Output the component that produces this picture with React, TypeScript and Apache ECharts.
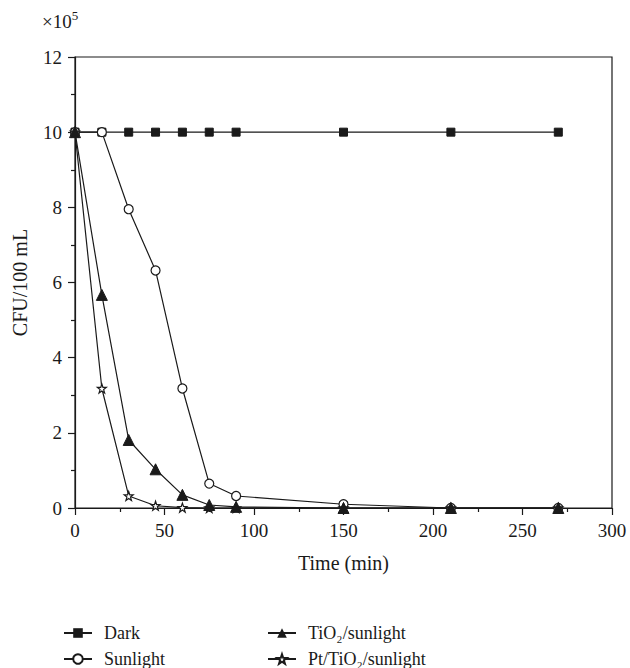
import React, { useEffect, useRef } from "react";
import * as echarts from "echarts";

// Sampling times (min)
const times = [0, 15, 30, 45, 60, 75, 90, 150, 210, 270];

// Bacterial counts, CFU/100 mL in units of 10^5
const darkCounts = [10, 10, 10, 10, 10, 10, 10, 10, 10, 10];
const sunlightCounts = [10, 10, 7.95, 6.32, 3.18, 0.65, 0.32, 0.1, 0, 0];
const tio2Counts = [10, 5.67, 1.81, 1.03, 0.35, 0.08, 0.03, 0, 0, 0];
const ptTio2Counts = [10, 3.18, 0.32, 0.06, 0.01, 0, 0, 0, 0, 0];

const seriesNames = ["Dark", "Sunlight", "TiO₂/sunlight", "Pt/TiO₂/sunlight"];

const yTicks = { min: 0, max: 12, interval: 2 };
const xTicks = { min: 0, max: 300, interval: 50 };

const FONT = "Liberation Serif";
const INK = "#1a1a1a";

const STAR =
  "path://M0,-10L2.35,-3.24L9.51,-3.09L3.8,1.24L5.88,8.09L0,4L-5.88,8.09L-3.8,1.24L-9.51,-3.09L-2.35,-3.24Z";

const pairs = (ys: number[]) => times.map((t, i) => [t, ys[i]]);

export default function App() {
  const ref = useRef<HTMLDivElement>(null);

  useEffect(() => {
    if (!ref.current) return;
    const chart = echarts.init(ref.current, undefined, { renderer: "svg" });

    const lineStyle = { color: INK, width: 1.2 };
    const legendText = {
      fontFamily: FONT,
      fontSize: 18,
      lineHeight: 16,
      color: INK,
      padding: [0, 0, 0, 7],
    };

    // One legend box per entry, laid out as a 2 x 2 block under the plot
    const legendAt = (name: string, left: number, top: number) => ({
      left,
      top,
      padding: 0,
      itemWidth: 28,
      itemHeight: 12,
      textStyle: legendText,
      selectedMode: false,
      data: [name],
    });

    const axisText = { fontFamily: FONT, fontSize: 19, color: INK };
    const titleText = { fontFamily: FONT, fontSize: 20, color: INK };

    chart.setOption({
      animation: false,
      backgroundColor: "#fff",
      textStyle: { fontFamily: FONT, fontSize: 19 },
      grid: {
        left: 75,
        right: 18,
        top: 57,
        bottom: 160,
        show: true,
        borderColor: INK,
        borderWidth: 1.2,
        containLabel: false,
      },
      legend: [
        legendAt(seriesNames[0], 63, 624),
        legendAt(seriesNames[1], 63, 650),
        legendAt(seriesNames[2], 267, 624),
        legendAt(seriesNames[3], 267, 650),
      ],
      graphic: [
        {
          type: "text",
          left: 42,
          top: 9,
          style: {
            text: "{a|×10}{b|5}",
            rich: {
              a: { fontFamily: FONT, fontSize: 19, fill: INK, lineHeight: 22, verticalAlign: "bottom" },
              b: { fontFamily: FONT, fontSize: 13, fill: INK, lineHeight: 12, verticalAlign: "top" },
            },
          },
        },
      ],
      xAxis: {
        type: "value",
        ...xTicks,
        name: "Time (min)",
        nameLocation: "middle",
        nameGap: 45,
        nameTextStyle: titleText,
        axisLine: { show: true, onZero: false, lineStyle: { color: INK, width: 1.2 } },
        axisTick: { show: true, length: 7, lineStyle: { color: INK, width: 1.2 } },
        minorTick: { show: true, splitNumber: 2, length: 4, lineStyle: { color: INK, width: 1.2 } },
        axisLabel: { ...axisText, margin: 13 },
        splitLine: { show: false },
      },
      yAxis: {
        type: "value",
        ...yTicks,
        name: "CFU/100 mL",
        nameLocation: "middle",
        nameGap: 45,
        nameTextStyle: titleText,
        axisLine: { show: true, onZero: false, lineStyle: { color: INK, width: 1.2 } },
        axisTick: { show: true, length: 7, lineStyle: { color: INK, width: 1.2 } },
        minorTick: { show: true, splitNumber: 2, length: 4, lineStyle: { color: INK, width: 1.2 } },
        axisLabel: { ...axisText, margin: 13 },
        splitLine: { show: false },
      },
      series: [
        {
          name: seriesNames[0],
          type: "line",
          data: pairs(darkCounts),
          symbol: "rect",
          symbolSize: 8,
          itemStyle: { color: INK, borderColor: INK },
          lineStyle,
          z: 2,
        },
        {
          name: seriesNames[1],
          type: "line",
          data: pairs(sunlightCounts),
          symbol: "circle",
          symbolSize: 9,
          itemStyle: { color: "#fff", borderColor: INK, borderWidth: 1.2 },
          lineStyle,
          z: 3,
        },
        {
          name: seriesNames[2],
          type: "line",
          data: pairs(tio2Counts),
          symbol: "triangle",
          symbolSize: 11,
          itemStyle: { color: INK, borderColor: INK },
          lineStyle,
          z: 5,
        },
        {
          name: seriesNames[3],
          type: "line",
          data: pairs(ptTio2Counts),
          symbol: STAR,
          symbolSize: 9,
          itemStyle: { color: "#fff", borderColor: INK, borderWidth: 1.2 },
          lineStyle,
          z: 4,
        },
      ],
    });

    return () => chart.dispose();
  }, []);

  return (
    <div
      ref={ref}
      style={{ position: "fixed", left: 0, top: 0, width: 630, height: 668, background: "#fff" }}
    />
  );
}
